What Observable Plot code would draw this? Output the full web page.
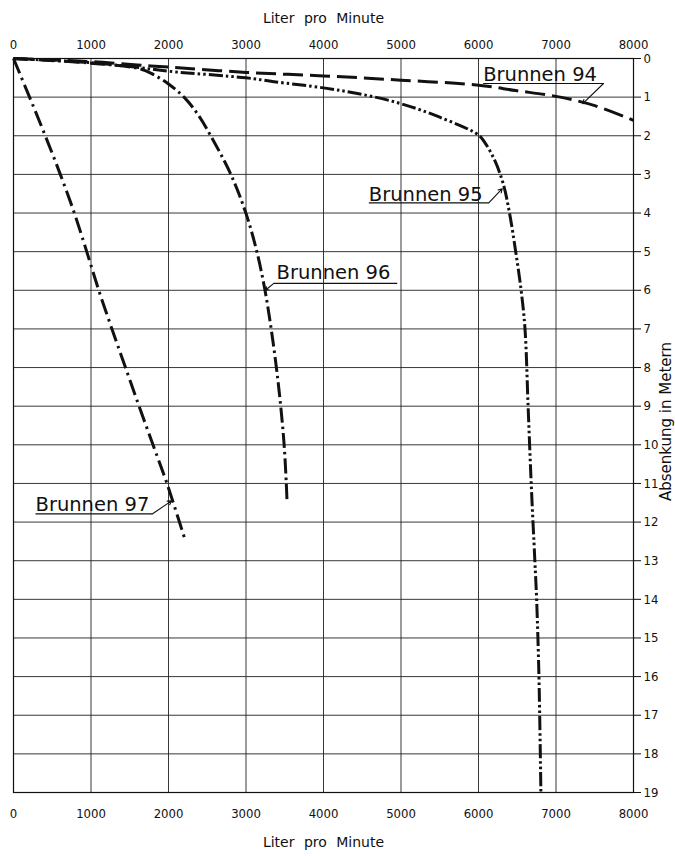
<!DOCTYPE html>
<html>
<head>
<meta charset="utf-8">
<script src="https://cdn.jsdelivr.net/npm/d3@7"></script>
<script src="https://cdn.jsdelivr.net/npm/@observablehq/plot@0.6"></script>
<style>
  body { margin: 0; background: #fff; }
  #chart svg { display: block; }
</style>
</head>
<body>
<div id="chart"></div>
<script>
// ---- tick labels ----
const xTicks = [0, 1000, 2000, 3000, 4000, 5000, 6000, 7000, 8000];
const yTicks = [0, 1, 2, 3, 4, 5, 6, 7, 8, 9, 10, 11, 12, 13, 14, 15, 16, 17, 18, 19];
const xTitle = "Liter pro Minute";
const yTitle = "Absenkung in Metern";

// ---- series (flow in l/min, drawdown in m) ----
const b94Flow = [0, 500, 1000, 1600, 2000, 3000, 4000, 5000, 6000, 6480, 7000, 7500, 8000];
const b94Draw = [0, 0.04, 0.08, 0.17, 0.22, 0.36, 0.45, 0.56, 0.69, 0.83, 0.98, 1.22, 1.6];

const b95Flow = [0, 1000, 1640, 2000, 3000, 3360, 4000, 4500, 5000, 5500, 6000, 6080, 6210, 6320, 6400, 6480, 6550, 6600, 6640, 6680, 6727, 6750, 6780, 6805];
const b95Draw = [0, 0.11, 0.24, 0.33, 0.5, 0.6, 0.76, 0.93, 1.17, 1.52, 1.98, 2.17, 2.64, 3.25, 4.0, 5.0, 6.0, 7.0, 9.0, 11.0, 13.0, 14.0, 16.0, 19.0];

const b96Flow = [0, 1000, 1640, 1810, 2000, 2200, 2380, 2545, 2804, 2998, 3140, 3245, 3325, 3392, 3448, 3492, 3520, 3530];
const b96Draw = [0, 0.12, 0.27, 0.42, 0.66, 1.0, 1.45, 2.0, 3.0, 4.0, 5.0, 6.0, 7.0, 8.0, 9.0, 10.0, 11.0, 11.5];

const b97Flow = [0, 207, 410, 604, 785, 945, 1100, 1270, 1445, 1620, 1800, 1980, 2220];
const b97Draw = [0, 1, 2, 3, 4, 5, 6, 7, 8, 9, 10, 11, 12.5];

// ---- annotations (data coordinates) ----
const labelNames = ["Brunnen 94", "Brunnen 95", "Brunnen 96", "Brunnen 97"];
const labelFlow = [6060, 4585, 3394, 284];
const labelDraw = [0.58, 3.69, 5.72, 11.71];
const underFlowStart = [6060, 4585, 3359, 284];
const underFlowEnd = [7613, 6133, 4951, 1790];
const underDraw = [0.647, 3.735, 5.82, 11.79];
const leaderFlowStart = [7613, 6133, 3359, 1790];
const leaderFlowEnd = [7345, 6306, 3250, 2040];
const leaderDrawEnd = [1.17, 3.37, 6.0, 11.45];

const rows = (xs, ys) => xs.map((x, i) => ({x, y: ys[i]}));
const labels = labelNames.map((name, i) => ({
  name, x: labelFlow[i], y: labelDraw[i],
  ux1: underFlowStart[i], ux2: underFlowEnd[i], uy: underDraw[i],
  lx1: leaderFlowStart[i], ly1: underDraw[i], lx2: leaderFlowEnd[i], ly2: leaderDrawEnd[i]
}));

const tickFont = "'Liberation Sans Narrow', 'DejaVu Sans Condensed', 'DejaVu Sans', sans-serif";
const textFont = "'DejaVu Sans', sans-serif";
const ink = "#111";

const lineOpts = (dash) => ({x: "x", y: "y", stroke: ink, strokeWidth: 3, strokeDasharray: dash, curve: "catmull-rom", strokeLinecap: "butt"});

const chart = Plot.plot({
  width: 675,
  height: 856,
  marginTop: 58,
  marginBottom: 64,
  marginLeft: 13,
  marginRight: 42,
  x: {domain: [0, 8000]},
  y: {domain: [0, 19], reverse: true},
  style: {background: "#fff", color: ink},
  marks: [
    Plot.gridX(xTicks, {stroke: "#222", strokeOpacity: 0.9, strokeWidth: 1}),
    Plot.gridY(yTicks, {stroke: "#222", strokeOpacity: 0.9, strokeWidth: 1}),
    Plot.frame({stroke: ink, strokeWidth: 1.2}),
    Plot.axisX({anchor: "top", ticks: xTicks, tickSize: 0, tickPadding: 10, tickFormat: d3.format("d"), label: null, fontSize: 13, fontFamily: tickFont}),
    Plot.axisX({anchor: "bottom", ticks: xTicks, tickSize: 0, tickPadding: 16, tickFormat: d3.format("d"), label: null, fontSize: 13, fontFamily: tickFont}),
    Plot.axisY({anchor: "right", ticks: yTicks, tickSize: 7, tickPadding: 3, tickFormat: d3.format("d"), label: null, fontSize: 13, fontFamily: tickFont}),
    Plot.text([xTitle], {frameAnchor: "top", dy: -45, lineAnchor: "top", fontSize: 14, fontFamily: textFont, fill: ink}),
    Plot.text([xTitle], {frameAnchor: "bottom", dy: 54, lineAnchor: "bottom", fontSize: 14, fontFamily: textFont, fill: ink}),
    Plot.text([yTitle], {frameAnchor: "right", dx: 37, dy: -4, rotate: -90, textAnchor: "middle", lineAnchor: "bottom", fontSize: 15, fontFamily: textFont, fill: ink}),
    Plot.line(rows(b94Flow, b94Draw), lineOpts("20,7")),
    Plot.line(rows(b95Flow, b95Draw), lineOpts("14,3,2.5,3,2.5,3")),
    Plot.line(rows(b96Flow, b96Draw), lineOpts("15,4,2.5,4")),
    Plot.line(rows(b97Flow, b97Draw), lineOpts("16,5,2.5,5")),
    Plot.text(labels, {x: "x", y: "y", text: "name", textAnchor: "start", lineAnchor: "bottom", fontSize: 19.5, fontFamily: textFont, fill: ink}),
    Plot.link(labels, {x1: "ux1", x2: "ux2", y1: "uy", y2: "uy", stroke: ink, strokeWidth: 1.2}),
    Plot.arrow(labels, {x1: "lx1", y1: "ly1", x2: "lx2", y2: "ly2", stroke: ink, strokeWidth: 1.1, headLength: 6})
  ]
});

d3.select(chart).selectAll("text")
  .filter(function () { return this.textContent === xTitle; })
  .style("word-spacing", "5px");

document.getElementById("chart").appendChild(chart);
</script>
</body>
</html>
